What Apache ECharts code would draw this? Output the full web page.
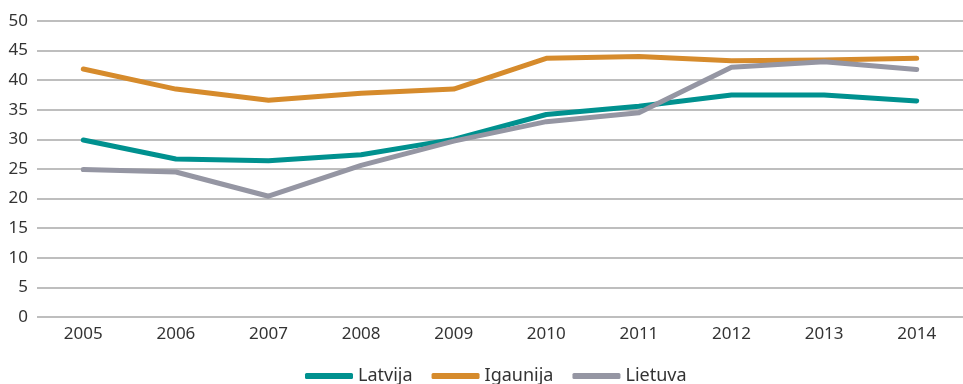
<!DOCTYPE html>
<html>
<head>
<meta charset="utf-8">
<script src="https://cdn.jsdelivr.net/npm/echarts@6/dist/echarts.min.js"></script>
<style>html,body{margin:0;padding:0;background:#fff}#c{width:963px;height:384px}</style>
</head>
<body>
<div id="c"></div>
<script>
const years = ['2005','2006','2007','2008','2009','2010','2011','2012','2013','2014'];
const latvija  = [29.9, 26.7, 26.4, 27.4, 30.0, 34.2, 35.6, 37.5, 37.5, 36.5];
const igaunija = [41.9, 38.5, 36.6, 37.8, 38.5, 43.7, 44.0, 43.3, 43.4, 43.7];
const lietuva  = [24.9, 24.5, 20.4, 25.6, 29.7, 33.0, 34.5, 42.2, 43.1, 41.8];
const seriesNames = ['Latvija', 'Igaunija', 'Lietuva'];
const colors = ['#00918f', '#d68b2c', '#9596a3'];
const fontFam = '"Source Sans Pro","Noto Sans",sans-serif';

const chart = echarts.init(document.getElementById('c'), null, {renderer: 'canvas'});
const mk = (name, data, color) => ({
  name, type: 'line', data, symbol: 'none', smooth: false,
  lineStyle: {width: 5, color, cap: 'round', join: 'round'},
  itemStyle: {color}
});
chart.setOption({
  animation: false,
  grid: {left: 37, top: 21, width: 932, bottom: 67, containLabel: false},
  xAxis: {
    type: 'category', data: years, boundaryGap: true,
    axisLine: {show: false}, axisTick: {show: false},
    axisLabel: {color: '#333', fontSize: 17, fontFamily: fontFam, margin: 9}
  },
  yAxis: {
    type: 'value', min: 0, max: 50, interval: 5,
    axisLine: {show: false}, axisTick: {show: false},
    splitLine: {lineStyle: {color: '#a8a8a8', width: 1.5}},
    axisLabel: {color: '#333', fontSize: 17, fontFamily: fontFam, margin: 9}
  },
  legend: {
    data: seriesNames, top: 362, left: 300,
    icon: 'roundRect', itemWidth: 48, itemHeight: 6, itemGap: 19,
    textStyle: {color: '#333', fontSize: 18, fontFamily: fontFam}
  },
  series: [mk(seriesNames[0], latvija, colors[0]), mk(seriesNames[1], igaunija, colors[1]), mk(seriesNames[2], lietuva, colors[2])]
});
</script>
</body>
</html>
